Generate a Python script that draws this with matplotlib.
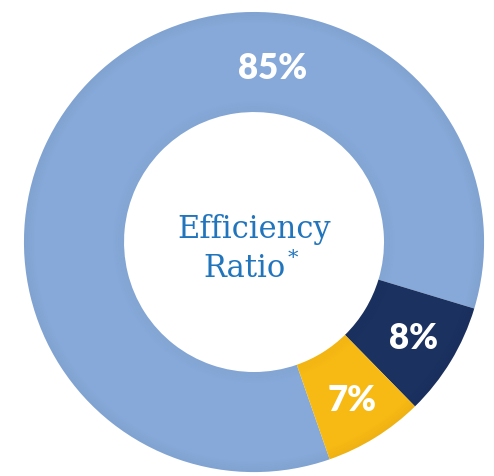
import matplotlib
matplotlib.use("Agg")
import matplotlib.pyplot as plt
import numpy as np

# data
labels = ["85%", "8%", "7%"]
shares = [85, 8, 7]
colors = ["#86a9d9", "#1b3160", "#f7b914"]
title_lines = ["Efficiency", "Ratio"]

START = -70.8          # where the big slice begins (clockwise)
WIDTH = 0.435          # ring thickness (outer radius = 1)
INK = "#2175bd"

fig = plt.figure(figsize=(4.94, 4.76), dpi=100, facecolor="white")
ax = fig.add_axes([0, 0, 1, 1])

wedges, _ = ax.pie(shares, colors=colors, startangle=START, counterclock=False,
                   radius=1.0, wedgeprops=dict(width=WIDTH, edgecolor="none"))

# soft shading toward the outer and inner edges
for i in range(6):
    a = 0.035 * (6 - i) / 6
    ax.pie(shares, colors=["none"] * 3, startangle=START, counterclock=False,
           radius=1.0 - i * 0.008,
           wedgeprops=dict(width=0.008, facecolor="black", alpha=a, edgecolor="none"))
    ax.pie(shares, colors=["none"] * 3, startangle=START, counterclock=False,
           radius=1.0 - WIDTH + (i + 1) * 0.008,
           wedgeprops=dict(width=0.008, facecolor="black", alpha=a * 0.6, edgecolor="none"))

# pie() resets the limits, so set them afterwards
ax.set_xlim(-1.104, 1.043)
ax.set_ylim(-1.017, 1.052)
ax.set_aspect("equal")
ax.axis("off")

# slice labels
mid_r = 1.0 - WIDTH / 2 + 0.03
label_angles = [(w.theta1 + w.theta2) / 2 for w in wedges]
label_angles[0] = 84.0   # big slice label sits near the top
for lab, ang, r in zip(labels, label_angles, [0.76, mid_r, mid_r]):
    t = np.deg2rad(ang)
    ax.text(r * np.cos(t), r * np.sin(t), lab, ha="center", va="center",
            color="white", fontsize=25, fontweight="heavy", family="Lato")

ax.text(0.0, 0.055, title_lines[0], ha="center", va="center", color=INK,
        fontsize=22, family="DejaVu Serif")
ratio = ax.text(-0.04, -0.115, title_lines[1], ha="center", va="center", color=INK,
                fontsize=22, family="DejaVu Serif")
ax.annotate("*", xy=(1, 1), xycoords=ratio, xytext=(1, 3), textcoords="offset points",
            ha="left", va="top", color=INK, fontsize=15, family="DejaVu Serif")

fig.savefig("out.png", dpi=100, facecolor="white")
